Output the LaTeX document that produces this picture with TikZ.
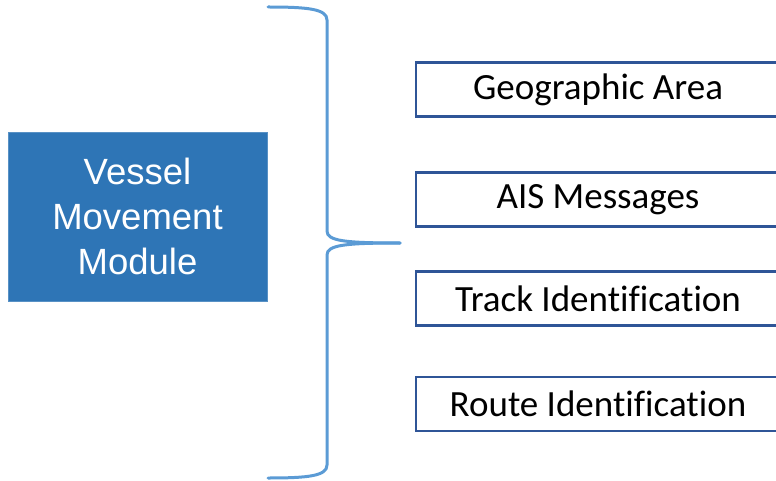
\documentclass[tikz,border=0pt]{standalone}
\usepackage{fontspec}
\setmainfont{Carlito}[Ligatures=NoCommon]
\newfontfamily\arialfont{Liberation Sans}
\definecolor{moduleblue}{HTML}{2E75B6}
\definecolor{boxedge}{HTML}{2F5597}
\definecolor{bracecol}{HTML}{5B9BD5}
\begin{document}
\begin{tikzpicture}[x=1pt,y=-1pt,
  module/.style={draw=moduleblue!80!white, line width=0.8pt, fill=moduleblue,
    text=white, minimum width=259pt, minimum height=169pt, align=center,
    font=\arialfont\fontsize{36.5}{45}\selectfont, inner sep=0pt},
  item/.style={draw=boxedge, line width=2.4pt, fill=white,
    minimum width=364pt, minimum height=54pt, inner sep=0pt,
    font=\fontsize{37}{40}\selectfont},
  bracket/.style={draw=bracecol, line width=3pt, line cap=round}]
\useasboundingbox (0,0) rectangle (776,481);
\node[module] (vmm) at (137.5,216.5) {Vessel\\Movement\\Module};
\node[item] (geo) at (598,89.5) {Geographic Area};
\node[item] (ais) at (598,199.5) {AIS Messages};
\node[item] (trk) at (598,298.5) {Track Identification};
\node[item] (rte) at (598,404) {Route Identification};
% curly brace grouping the four parts
\draw[bracket] (268,7) .. controls (308,7) and (327,9) .. (327,20)
  -- (327,231) .. controls (327,241) and (345,243) .. (400,243);
\draw[bracket] (400,243) .. controls (345,243) and (327,245) .. (327,255)
  -- (327,465) .. controls (327,476) and (308,478) .. (268,478);
\end{tikzpicture}
\end{document}
